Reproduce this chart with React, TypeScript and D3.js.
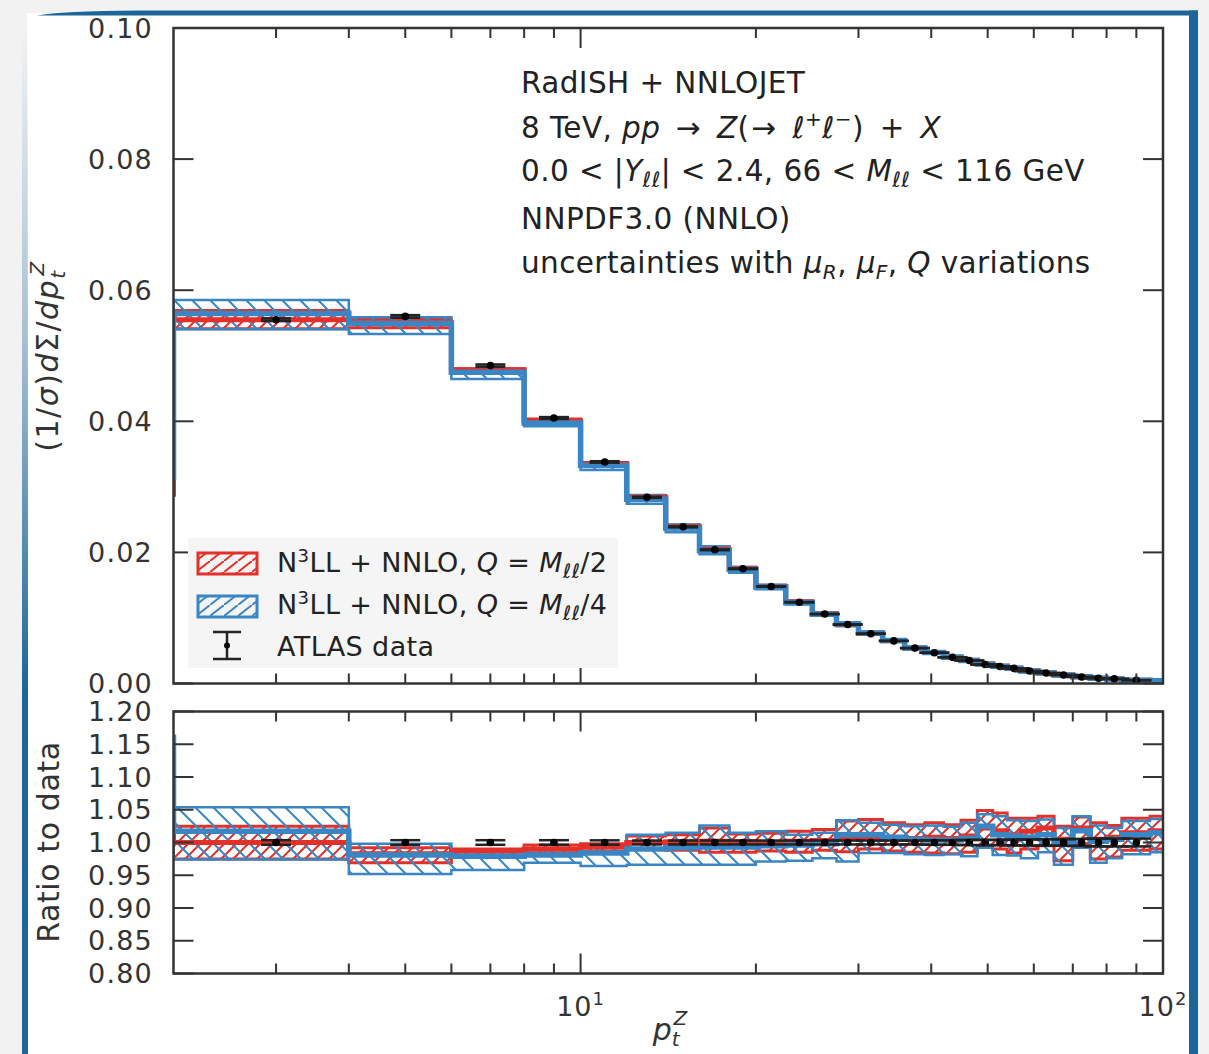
import React from 'react';
import * as d3 from 'd3';

// ---------- data ----------
const binEdges = [2, 4, 6, 8, 10, 12, 14, 16, 18, 20, 22.5, 25, 27.5, 30, 33, 36, 39, 42, 45, 48, 51, 54, 57, 61, 65, 70, 75, 80, 85, 95, 105];
const dataValues = [0.0555, 0.0560, 0.0485, 0.0405, 0.0338, 0.0284, 0.0239, 0.0204, 0.0175, 0.0148, 0.0124, 0.0106, 0.0090, 0.0076, 0.0065, 0.0054, 0.0047, 0.0040, 0.0035, 0.0029, 0.0026, 0.0023, 0.0019, 0.0016, 0.0013, 0.0010, 0.0008, 0.0007, 0.0005, 0.0004];
const dataRelErr = [0.0035, 0.0035, 0.0035, 0.0035, 0.0033, 0.003, 0.003, 0.003, 0.003, 0.003, 0.003, 0.003, 0.003, 0.003, 0.003, 0.003, 0.0035, 0.0035, 0.004, 0.004, 0.004, 0.0045, 0.0045, 0.005, 0.005, 0.0055, 0.006, 0.006, 0.006, 0.007];

const redRatioC = [1.000, 0.983, 0.987, 0.990, 0.993, 1.000, 1.001, 1.002, 1.001, 1.000, 1.002, 1.003, 1.006, 1.008, 1.006, 1.006, 1.008, 1.006, 1.010, 1.022, 1.018, 1.012, 1.017, 1.022, 1.005, 1.022, 1.005, 1.008, 1.015, 1.018];
const redRatioLo = [0.975, 0.969, 0.980, 0.984, 0.987, 0.990, 0.988, 0.985, 0.985, 0.987, 0.985, 0.988, 0.986, 0.990, 0.987, 0.985, 0.984, 0.983, 0.985, 0.995, 0.990, 0.984, 0.990, 0.995, 0.972, 0.998, 0.975, 0.978, 0.988, 0.990];
const redRatioHi = [1.025, 0.992, 0.990, 0.996, 0.998, 1.010, 1.012, 1.022, 1.013, 1.014, 1.017, 1.020, 1.033, 1.035, 1.030, 1.027, 1.030, 1.027, 1.034, 1.049, 1.045, 1.037, 1.037, 1.040, 1.025, 1.039, 1.030, 1.026, 1.037, 1.040];
const blueRatioC = [1.017, 0.981, 0.979, 0.981, 0.984, 0.990, 0.992, 0.993, 0.993, 0.995, 0.996, 0.998, 1.012, 1.012, 1.008, 1.005, 1.004, 1.004, 1.006, 1.025, 1.012, 1.010, 1.008, 1.012, 1.000, 1.018, 1.002, 1.005, 1.012, 1.015];
const blueRatioLo = [0.974, 0.952, 0.958, 0.969, 0.964, 0.966, 0.966, 0.966, 0.966, 0.971, 0.972, 0.976, 0.971, 0.984, 0.984, 0.982, 0.981, 0.982, 0.979, 0.992, 0.981, 0.980, 0.976, 0.985, 0.966, 0.992, 0.969, 0.976, 0.982, 0.985];
const blueRatioHi = [1.054, 0.998, 0.985, 0.988, 0.992, 1.012, 1.015, 1.026, 1.015, 1.017, 1.012, 1.015, 1.034, 1.030, 1.027, 1.025, 1.026, 1.024, 1.030, 1.043, 1.040, 1.034, 1.033, 1.035, 1.022, 1.040, 1.026, 1.022, 1.033, 1.036];

// value of the (clipped) 0-2 GeV bin, visible only as the step at the left edge
const firstBinUpperRed = 0.0285;
const firstBinUpperBlue = 0.031;
const firstBinRatioRed = 1.07;
const firstBinRatioBlue = 1.165;

const upperTicks = [0, 0.02, 0.04, 0.06, 0.08, 0.10];
const lowerTicks = [0.8, 0.85, 0.9, 0.95, 1.0, 1.05, 1.1, 1.15, 1.2];
const xMinorTicks = [3, 4, 5, 6, 7, 8, 9, 20, 30, 40, 50, 60, 70, 80, 90];
const xMajorTicks = [10, 100];

// ---------- layout ----------
const W = 1209, H = 1054;
const PL = 173.5, PR = 1163;
const UT = 28, UB = 683.5;
const LT = 711.5, LB = 973.5;
const RED = '#e2302b';
const BLUE = '#3a86c4';
const INK = '#333333';
const FONT = 'DejaVu Sans, sans-serif';

const x = d3.scaleLog().domain([2, 100]).range([PL, PR]);
const yU = d3.scaleLinear().domain([0, 0.1]).range([UB, UT]);
const yL = d3.scaleLinear().domain([0.8, 1.2]).range([LB, LT]);

function stepPath(vals: number[], y: (v: number) => number, startVal?: number) {
  let p = '';
  if (startVal !== undefined) p += `M${x(binEdges[0])},${y(startVal)}L${x(binEdges[0])},${y(vals[0])}`;
  else p += `M${x(binEdges[0])},${y(vals[0])}`;
  vals.forEach((v, i) => {
    if (i > 0) p += `L${x(binEdges[i])},${y(v)}`;
    p += `L${x(binEdges[i + 1])},${y(v)}`;
  });
  return p;
}
function bandPath(lo: number[], hi: number[], y: (v: number) => number) {
  const pts: [number, number][] = [];
  hi.forEach((v, i) => { pts.push([x(binEdges[i]), y(v)]); pts.push([x(binEdges[i + 1]), y(v)]); });
  for (let i = lo.length - 1; i >= 0; i--) { pts.push([x(binEdges[i + 1]), y(lo[i])]); pts.push([x(binEdges[i]), y(lo[i])]); }
  return 'M' + pts.map(p => p.join(',')).join('L') + 'Z';
}

const mul = (a: number[], b: number[]) => a.map((v, i) => v * b[i]);

export default function App() {
  const ones = dataValues.map(() => 1);
  const upRed = { c: mul(dataValues, redRatioC), lo: mul(dataValues, redRatioLo), hi: mul(dataValues, redRatioHi) };
  const upBlue = { c: mul(dataValues, blueRatioC), lo: mul(dataValues, blueRatioLo), hi: mul(dataValues, blueRatioHi) };
  const centers = binEdges.slice(0, -1).map((e, i) => (e + binEdges[i + 1]) / 2);
  const shown = centers.map((c, i) => i).filter(i => centers[i] < 100);

  const xTicks = (top: number, bottom: number) => (
    <g stroke={INK} strokeWidth={2}>
      {xMinorTicks.map(t => (
        <g key={t}>
          <line x1={x(t)} x2={x(t)} y1={bottom} y2={bottom - 10} />
          <line x1={x(t)} x2={x(t)} y1={top} y2={top + 10} />
        </g>
      ))}
      {xMajorTicks.map(t => (
        <g key={t}>
          <line x1={x(t)} x2={x(t)} y1={bottom} y2={bottom - 20} />
          <line x1={x(t)} x2={x(t)} y1={top} y2={top + 20} />
        </g>
      ))}
    </g>
  );
  const yTicks = (ticks: number[], y: any, fmt: (v: number) => string) => (
    <g>
      {ticks.map(t => (
        <g key={t}>
          <line x1={PL} x2={PL + 20} y1={y(t)} y2={y(t)} stroke={INK} strokeWidth={2} />
          <line x1={PR} x2={PR - 20} y1={y(t)} y2={y(t)} stroke={INK} strokeWidth={2} />
          <text x={153} y={y(t)} dy="0.36em" textAnchor="end" fontSize={27} letterSpacing={1.2} fill={INK}>{fmt(t)}</text>
        </g>
      ))}
    </g>
  );

  const dataMarks = (y: any, vals: number[]) => (
    <g>
      {shown.map(i => {
        const cx = x(centers[i]);
        const v = vals[i];
        const e = v * dataRelErr[i];
        return (
          <g key={i}>
            <line x1={cx} x2={cx} y1={y(v - e)} y2={y(v + e)} stroke="#222" strokeWidth={2.5} />
            <line x1={cx - 15} x2={cx + 15} y1={y(v - e)} y2={y(v - e)} stroke="#222" strokeWidth={2.5} />
            <line x1={cx - 15} x2={cx + 15} y1={y(v + e)} y2={y(v + e)} stroke="#222" strokeWidth={2.5} />
            <circle cx={cx} cy={y(v)} r={3.8} fill="#000" />
          </g>
        );
      })}
    </g>
  );

  const theoryLayer = (y: any, r: any, b: any, rs: number, bs: number) => (
    <g>
      <path d={bandPath(r.lo, r.hi, y)} fill="url(#hatchRed)" stroke={RED} strokeWidth={3} />
      <path d={bandPath(b.lo, b.hi, y)} fill="url(#hatchBlue)" stroke={BLUE} strokeWidth={2.5} />
      <path d={stepPath(r.c, y, rs)} fill="none" stroke={RED} strokeWidth={5} />
      <path d={stepPath(b.c, y, bs)} fill="none" stroke={BLUE} strokeWidth={5.5} />
    </g>
  );

  return (
    <svg width={W} height={H} style={{ position: 'absolute', left: 0, top: 0 }} fontFamily={FONT}>
      <defs>
        <pattern id="hatchRed" patternUnits="userSpaceOnUse" width={12} height={12}>
          <path d="M-1,1 L1,-1 M0,12 L12,0 M11,13 L13,11" stroke={RED} strokeWidth={2} />
        </pattern>
        <pattern id="hatchBlue" patternUnits="userSpaceOnUse" width={18} height={18}>
          <path d="M-1,17 L1,19 M0,0 L18,18 M17,-1 L19,1" stroke={BLUE} strokeWidth={2} />
        </pattern>
        <pattern id="hatchRedL" patternUnits="userSpaceOnUse" width={14} height={11}>
          <path d="M0,11 L14,0" stroke={RED} strokeWidth={2} />
        </pattern>
        <pattern id="hatchBlueL" patternUnits="userSpaceOnUse" width={14} height={11}>
          <path d="M0,11 L14,0" stroke={BLUE} strokeWidth={2} />
        </pattern>
        <clipPath id="clipU"><rect x={PL} y={UT} width={PR - PL} height={UB - UT} /></clipPath>
        <clipPath id="clipL"><rect x={PL} y={LT} width={PR - PL} height={LB - LT} /></clipPath>
        <linearGradient id="leftBar" x1="0" y1="0" x2="0" y2="1">
          <stop offset="0" stopColor="#1b6598" stopOpacity={0} />
          <stop offset="0.3" stopColor="#1b6598" stopOpacity={0.35} />
          <stop offset="0.65" stopColor="#1b6598" stopOpacity={1} />
          <stop offset="1" stopColor="#1b6598" stopOpacity={1} />
        </linearGradient>
      </defs>

      {/* frame */}
      <rect x={0} y={0} width={W} height={H} fill="#f2f2f2" />
      <rect x={27} y={13} width={1163} height={H - 13} fill="#ffffff" />
      <path d="M37,15.5 Q60,11 140,10.5 L1198,10.5 L1198,15.5 Z" fill="#1b6598" />
      <rect x={1189} y={10.5} width={9} height={H} fill="#1b6598" />
      <rect x={22} y={30} width={6} height={H - 30} fill="url(#leftBar)" />

      {/* upper panel */}
      <g clipPath="url(#clipU)">
        {theoryLayer(yU, upRed, upBlue, firstBinUpperRed, firstBinUpperBlue)}
      </g>
      {dataMarks(yU, dataValues)}
      {xTicks(UT, UB)}
      {yTicks(upperTicks, yU, d3.format('.2f'))}
      <rect x={PL} y={UT} width={PR - PL} height={UB - UT} fill="none" stroke={INK} strokeWidth={2.5} />

      {/* annotation */}
      <g fontSize={29.5} fill="#222" letterSpacing={0.4}>
        <text x={521} y={93}>RadISH + NNLOJET</text>
        <text x={521} y={138}>8 TeV, <tspan fontStyle="italic">pp</tspan><tspan dx={6}> → </tspan><tspan dx={6} fontStyle="italic">Z</tspan>(<tspan dx={2}>→ </tspan><tspan dx={6} fontStyle="italic">ℓ</tspan><tspan dy={-12} fontSize={20}>+</tspan><tspan dy={12} fontStyle="italic">ℓ</tspan><tspan dy={-12} fontSize={20}>−</tspan><tspan dy={12}>)</tspan><tspan dx={6}> + </tspan><tspan dx={6} fontStyle="italic">X</tspan></text>
        <text x={521} y={181}>0.0 &lt; |<tspan fontStyle="italic">Y</tspan><tspan dy={6} fontSize={21} fontStyle="italic">ℓℓ</tspan><tspan dy={-6}>| &lt; 2.4, 66 &lt; </tspan><tspan fontStyle="italic">M</tspan><tspan dy={6} fontSize={21} fontStyle="italic">ℓℓ</tspan><tspan dy={-6}> &lt; 116 GeV</tspan></text>
        <text x={521} y={229}>NNPDF3.0 (NNLO)</text>
        <text x={521} y={273}>uncertainties with <tspan fontStyle="italic">μ</tspan><tspan dy={6} fontSize={20} fontStyle="italic">R</tspan><tspan dy={-6}>, </tspan><tspan fontStyle="italic">μ</tspan><tspan dy={6} fontSize={20} fontStyle="italic">F</tspan><tspan dy={-6}>, </tspan><tspan fontStyle="italic">Q</tspan> variations</text>
      </g>

      {/* legend */}
      <g>
        <rect x={188} y={538} width={430} height={130} fill="#f5f5f5" />
        <rect x={198} y={553} width={59} height={21} fill="url(#hatchRedL)" stroke={RED} strokeWidth={3} />
        <rect x={198} y={596} width={59} height={21} fill="url(#hatchBlueL)" stroke={BLUE} strokeWidth={3} />
        <line x1={227} x2={227} y1={632} y2={659} stroke="#222" strokeWidth={2.5} />
        <line x1={213} x2={241} y1={632} y2={632} stroke="#222" strokeWidth={2.5} />
        <line x1={213} x2={241} y1={659} y2={659} stroke="#222" strokeWidth={2.5} />
        <circle cx={227} cy={645.5} r={3} fill="#000" />
        <g fontSize={27} fill="#222" letterSpacing={0.4}>
          <text x={277} y={572}>N<tspan dy={-10} fontSize={18}>3</tspan><tspan dy={10}>LL + NNLO, </tspan><tspan fontStyle="italic">Q</tspan> = <tspan fontStyle="italic">M</tspan><tspan dy={6} fontSize={20} fontStyle="italic">ℓℓ</tspan><tspan dy={-6}>/2</tspan></text>
          <text x={277} y={614}>N<tspan dy={-10} fontSize={18}>3</tspan><tspan dy={10}>LL + NNLO, </tspan><tspan fontStyle="italic">Q</tspan> = <tspan fontStyle="italic">M</tspan><tspan dy={6} fontSize={20} fontStyle="italic">ℓℓ</tspan><tspan dy={-6}>/4</tspan></text>
          <text x={277} y={656}>ATLAS data</text>
        </g>
      </g>

      {/* lower panel */}
      <g clipPath="url(#clipL)">
        {theoryLayer(yL, { c: redRatioC, lo: redRatioLo, hi: redRatioHi }, { c: blueRatioC, lo: blueRatioLo, hi: blueRatioHi }, firstBinRatioRed, firstBinRatioBlue)}
      </g>
      {dataMarks(yL, ones)}
      {xTicks(LT, LB)}
      {yTicks(lowerTicks, yL, d3.format('.2f'))}
      <rect x={PL} y={LT} width={PR - PL} height={LB - LT} fill="none" stroke={INK} strokeWidth={2.5} />

      {/* x tick labels */}
      <g fontSize={27} fill={INK} textAnchor="middle" letterSpacing={1}>
        {xMajorTicks.map(t => (
          <text key={t} x={x(t)} y={1016}>10<tspan dy={-11} fontSize={18}>{Math.round(Math.log10(t))}</tspan></text>
        ))}
      </g>
      {/* axis labels */}
      <text x={670} y={1040} fontSize={30} fill={INK} textAnchor="middle"><tspan fontStyle="italic">p</tspan><tspan dy={6} fontSize={20} fontStyle="italic">t</tspan><tspan dx={-6} dy={-21} fontSize={20} fontStyle="italic">Z</tspan></text>
      <text transform="translate(58,356) rotate(-90)" fontSize={30} fill={INK} textAnchor="middle" letterSpacing={1.5}>(1/<tspan fontStyle="italic">σ</tspan>)<tspan fontStyle="italic">d</tspan>Σ/<tspan fontStyle="italic">dp</tspan><tspan dy={7} fontSize={20} fontStyle="italic">t</tspan><tspan dx={-6} dy={-21} fontSize={20} fontStyle="italic">Z</tspan></text>
      <text transform="translate(59,842) rotate(-90)" fontSize={30} fill={INK} textAnchor="middle" letterSpacing={0.6}>Ratio to data</text>
    </svg>
  );
}
